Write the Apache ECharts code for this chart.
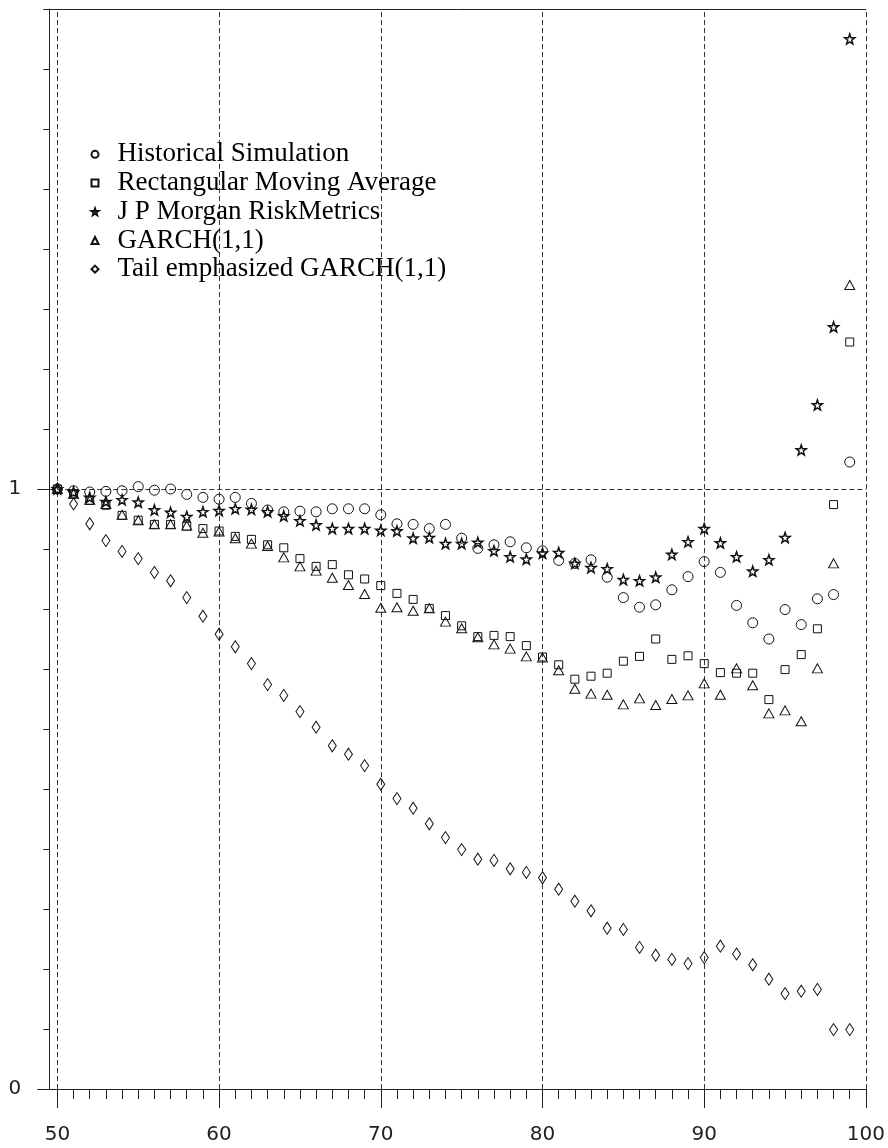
<!DOCTYPE html>
<html>
<head>
<meta charset="utf-8">
<title>VaR backtest ratios</title>
<script src="https://cdn.jsdelivr.net/npm/echarts@6.0.0/dist/echarts.min.js"></script>
<style>
  html, body { margin: 0; padding: 0; background: #fff; }
  #chart { width: 888px; height: 1148px; }
</style>
</head>
<body>
<div id="chart"></div>
<script>
// Confidence level (percent) on the horizontal axis
const levels = [50, 51, 52, 53, 54, 55, 56, 57, 58, 59,
                60, 61, 62, 63, 64, 65, 66, 67, 68, 69,
                70, 71, 72, 73, 74, 75, 76, 77, 78, 79,
                80, 81, 82, 83, 84, 85, 86, 87, 88, 89,
                90, 91, 92, 93, 94, 95, 96, 97, 98, 99];

const historicalSimulation = [
  1.000, 0.997, 0.995, 0.996, 0.997, 1.004, 0.998, 1.000, 0.991, 0.986,
  0.983, 0.986, 0.976, 0.965, 0.962, 0.963, 0.962, 0.967, 0.967, 0.967,
  0.957, 0.942, 0.941, 0.934, 0.941, 0.918, 0.901, 0.907, 0.912, 0.902,
  0.897, 0.881, 0.876, 0.882, 0.853, 0.819, 0.803, 0.807, 0.832, 0.854,
  0.879, 0.861, 0.806, 0.777, 0.750, 0.799, 0.774, 0.817, 0.824, 1.045];

const rectangularMA = [
  1.000, 0.992, 0.981, 0.973, 0.956, 0.948, 0.941, 0.941, 0.938, 0.934,
  0.930, 0.921, 0.916, 0.907, 0.902, 0.884, 0.871, 0.874, 0.857, 0.850,
  0.839, 0.826, 0.816, 0.801, 0.789, 0.772, 0.754, 0.756, 0.754, 0.739,
  0.720, 0.707, 0.683, 0.688, 0.693, 0.713, 0.721, 0.750, 0.716, 0.722,
  0.709, 0.694, 0.693, 0.693, 0.649, 0.699, 0.724, 0.767, 0.974, 1.245];

const riskMetrics = [
  1.000, 0.995, 0.986, 0.979, 0.982, 0.978, 0.965, 0.961, 0.954, 0.962,
  0.964, 0.967, 0.966, 0.962, 0.955, 0.947, 0.940, 0.934, 0.934, 0.934,
  0.931, 0.930, 0.918, 0.919, 0.909, 0.909, 0.911, 0.897, 0.887, 0.883,
  0.893, 0.894, 0.876, 0.869, 0.867, 0.849, 0.847, 0.853, 0.891, 0.912,
  0.934, 0.910, 0.887, 0.863, 0.882, 0.919, 1.065, 1.140, 1.270, 1.750];

const garch11 = [
  1.000, 0.992, 0.982, 0.975, 0.957, 0.948, 0.941, 0.941, 0.939, 0.927,
  0.929, 0.918, 0.909, 0.905, 0.886, 0.871, 0.864, 0.852, 0.840, 0.825,
  0.802, 0.803, 0.797, 0.801, 0.779, 0.768, 0.753, 0.741, 0.734, 0.721,
  0.719, 0.698, 0.667, 0.659, 0.657, 0.641, 0.651, 0.640, 0.650, 0.656,
  0.676, 0.657, 0.701, 0.673, 0.626, 0.631, 0.613, 0.701, 0.876, 1.340];

const tailGarch11 = [
  1.000, 0.975, 0.942, 0.914, 0.896, 0.884, 0.861, 0.847, 0.819, 0.788,
  0.758, 0.737, 0.709, 0.674, 0.656, 0.629, 0.603, 0.572, 0.558, 0.539,
  0.508, 0.484, 0.468, 0.442, 0.419, 0.399, 0.383, 0.381, 0.367, 0.361,
  0.352, 0.333, 0.313, 0.297, 0.268, 0.266, 0.236, 0.223, 0.216, 0.209,
  0.219, 0.238, 0.225, 0.207, 0.183, 0.159, 0.163, 0.166, 0.099, 0.099];

const seriesNames = [
  'Historical Simulation',
  'Rectangular Moving Average',
  'J P Morgan RiskMetrics',
  'GARCH(1,1)',
  'Tail emphasized GARCH(1,1)'
];

// Tick positions and labelled values
const xMinorTicks = [50, 51, 52, 53, 54, 55, 56, 57, 58, 59, 60, 61, 62, 63, 64, 65, 66,
                     67, 68, 69, 70, 71, 72, 73, 74, 75, 76, 77, 78, 79, 80, 81, 82, 83,
                     84, 85, 86, 87, 88, 89, 90, 91, 92, 93, 94, 95, 96, 97, 98, 99, 100];
const xMajorTicks = [50, 60, 70, 80, 90, 100];
const yMinorTicks = [0, 0.1, 0.2, 0.3, 0.4, 0.5, 0.6, 0.7, 0.8, 0.9,
                     1, 1.1, 1.2, 1.3, 1.4, 1.5, 1.6, 1.7, 1.8];
const yMajorTicks = [0, 1];
const referenceLevel = 1;

// Five-pointed star outline used for the RiskMetrics points
const STAR = 'path://M0,-10L2.35,-3.24L9.51,-3.09L3.8,1.24L5.88,8.09L0,4.2L-5.88,8.09L-3.8,1.24L-9.51,-3.09L-2.35,-3.24Z';
const INK = '#111';
const AXIS_INK = '#222';

function pairs(values) {
  return levels.map((x, i) => [x, values[i]]);
}

function scatter(name, values, symbol, size, borderWidth) {
  return {
    name: name,
    type: 'scatter',
    xAxisIndex: 0,
    yAxisIndex: 0,
    data: pairs(values),
    symbol: symbol,
    symbolSize: size,
    itemStyle: { color: 'rgba(0,0,0,0)', borderColor: INK, borderWidth: borderWidth, opacity: 1 },
    emphasis: { disabled: true },
    z: 3
  };
}

const gridMarks = xMajorTicks.map(v => ({ xAxis: v })).concat([{ yAxis: referenceLevel }]);

const chart = echarts.init(document.getElementById('chart'), null, { renderer: 'canvas' });

const xBase = { type: 'value', min: 49.5, max: 100, gridIndex: 0, splitLine: { show: false } };
const yBase = { type: 'value', min: 0, max: 1.8, gridIndex: 0, splitLine: { show: false } };

chart.setOption({
  animation: false,
  backgroundColor: '#fff',
  grid: { left: 49.3, right: 20.3, top: 9, bottom: 59, containLabel: false },
  legend: {
    orient: 'vertical',
    left: 85.5,
    top: 135,
    itemWidth: 7,
    itemHeight: 7,
    itemGap: 0,
    selectedMode: false,
    data: seriesNames,
    textStyle: {
      fontFamily: 'Liberation Serif',
      fontSize: 27,
      lineHeight: 28.7,
      color: '#000',
      padding: [0, 0, 0, 14]
    }
  },
  xAxis: [
    Object.assign({}, xBase, {
      position: 'bottom',
      axisLine: { show: true, lineStyle: { color: AXIS_INK, width: 1 } },
      axisTick: { show: true, customValues: xMinorTicks, length: 10, lineStyle: { color: AXIS_INK, width: 1 } },
      axisLabel: {
        show: true, customValues: xMajorTicks, margin: 36,
        fontFamily: 'DejaVu Sans', fontSize: 20, color: AXIS_INK
      }
    }),
    Object.assign({}, xBase, {
      position: 'bottom',
      axisLine: { show: false },
      axisTick: { show: true, customValues: xMajorTicks, length: 19, lineStyle: { color: AXIS_INK, width: 1 } },
      axisLabel: { show: false }
    }),
    Object.assign({}, xBase, {
      position: 'top',
      axisLine: { show: true, lineStyle: { color: AXIS_INK, width: 1 } },
      axisTick: { show: false },
      axisLabel: { show: false }
    })
  ],
  yAxis: [
    Object.assign({}, yBase, {
      position: 'left',
      axisLine: { show: true, lineStyle: { color: AXIS_INK, width: 1 } },
      axisTick: { show: true, customValues: yMinorTicks, length: 6, lineStyle: { color: AXIS_INK, width: 1 } },
      axisLabel: {
        show: true, customValues: yMajorTicks, margin: 28,
        fontFamily: 'DejaVu Sans', fontSize: 20, color: AXIS_INK
      }
    }),
    Object.assign({}, yBase, {
      position: 'left',
      axisLine: { show: false },
      axisTick: { show: true, customValues: yMajorTicks, length: 12, lineStyle: { color: AXIS_INK, width: 1 } },
      axisLabel: { show: false }
    })
  ],
  series: [
    Object.assign(scatter(seriesNames[0], historicalSimulation, 'circle', 10, 1), {
      markLine: {
        silent: true,
        symbol: 'none',
        label: { show: false },
        lineStyle: { color: '#333', width: 1, type: [5, 3] },
        data: gridMarks,
        z: 1
      }
    }),
    scatter(seriesNames[1], rectangularMA, 'rect', 8, 1),
    scatter(seriesNames[2], riskMetrics, STAR, 10, 1.5),
    scatter(seriesNames[3], garch11, 'triangle', [10, 9], 1),
    scatter(seriesNames[4], tailGarch11, 'diamond', [8, 12], 1)
  ]
});
</script>
</body>
</html>
